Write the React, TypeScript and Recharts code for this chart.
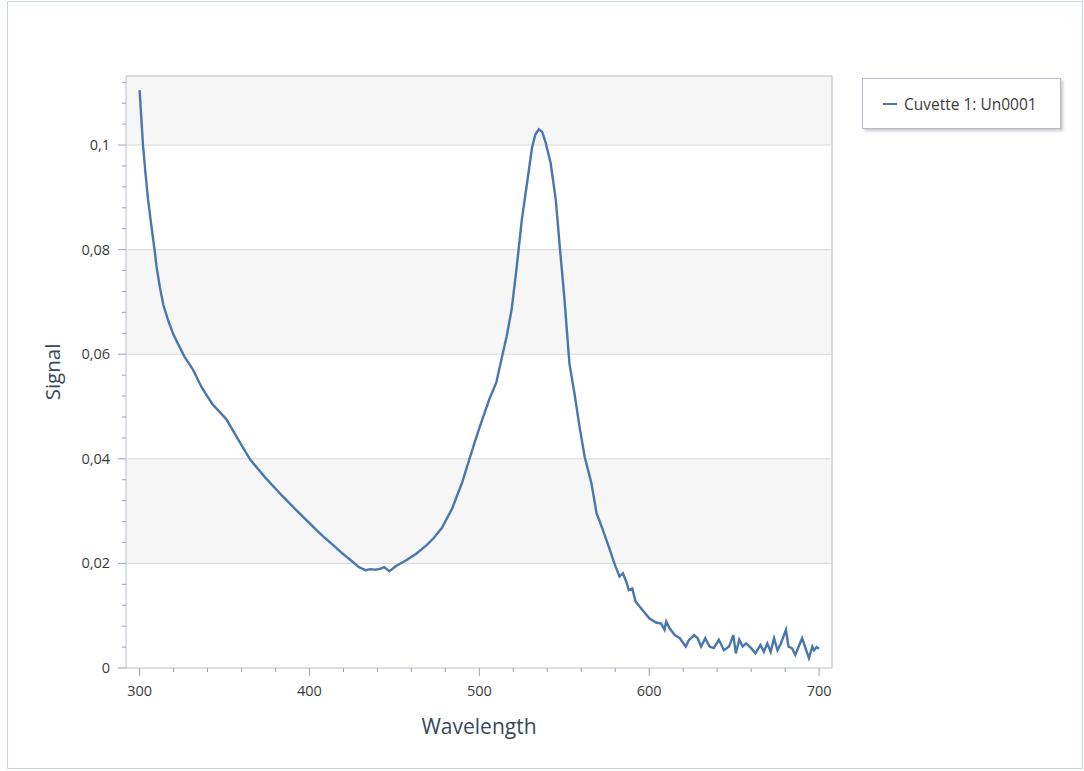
import React from 'react';
import { LineChart, Line, XAxis, YAxis, ReferenceArea, ReferenceLine, Legend } from 'recharts';

// spectrum
const wavelengths = [
  300, 302, 303.5, 305, 307, 309, 310, 312, 314, 317, 320, 323.5, 326.5, 331.5, 336.5, 340,
  343, 347, 351, 358, 365, 374, 384, 394,
  404, 409, 414, 419, 424, 429, 433, 436, 439, 442, 444, 447, 451, 457, 463, 469, 473, 478,
  484, 490, 494, 498, 502, 506, 510, 513, 516, 519, 522, 525, 528, 531, 533, 535, 537, 539,
  542, 545, 547.5, 550, 553, 556, 559, 562, 566, 569, 572.5, 576.5, 579.5, 582.5, 584.5, 586.5,
  588, 590, 592, 596, 600, 604, 607, 609, 610, 612, 615, 618, 621.5, 623.5, 626.5, 628.5,
  630.5, 633, 635.5, 638, 641, 644, 647, 649.5, 651, 653, 655, 657, 660, 662.5, 665.5, 667.5,
  669.5, 671.5, 673.5, 675.5, 677.5, 680.5, 682, 684, 686, 688, 690, 692, 694, 696, 697,
  698.5, 700,
];
const signal = [
  0.1105, 0.1, 0.0945, 0.0895, 0.0844, 0.0795, 0.0767, 0.0727, 0.0694, 0.0663, 0.0637, 0.0614,
  0.0595, 0.057, 0.0537, 0.0519, 0.0504, 0.049,
  0.0476, 0.0437, 0.0399, 0.0364, 0.0329, 0.0296, 0.0264, 0.0249, 0.0235, 0.022, 0.0207,
  0.0193, 0.0187, 0.0189, 0.0188, 0.019, 0.0193, 0.0185, 0.0195, 0.0206, 0.0219, 0.0235,
  0.0248, 0.0268, 0.0305, 0.0356, 0.0398, 0.0439, 0.0478, 0.0515, 0.0546, 0.059, 0.0633,
  0.0685, 0.0767, 0.0857, 0.0925, 0.0995, 0.102, 0.103, 0.1025, 0.1005, 0.0965, 0.0895, 0.08,
  0.071, 0.0583, 0.0525, 0.0461, 0.0404, 0.0353, 0.0296, 0.0266, 0.0229, 0.02, 0.0175, 0.0181,
  0.0165, 0.0149, 0.0152, 0.0127, 0.0111, 0.0095, 0.0087, 0.0085, 0.0073, 0.0089, 0.0076,
  0.0063, 0.0057, 0.0041, 0.0054, 0.0063, 0.0057, 0.0041, 0.0057, 0.0041, 0.0038, 0.0054,
  0.0034, 0.0041, 0.0063, 0.0028, 0.0054, 0.0041, 0.0047, 0.0038, 0.0028, 0.0044, 0.0031,
  0.0047, 0.0031, 0.0057, 0.0034, 0.0047, 0.0073, 0.0041, 0.0038, 0.0025, 0.0041, 0.0057,
  0.0038, 0.0019, 0.0041, 0.0034, 0.004, 0.0037,
];

const xTicks = [
  300, 320, 340, 360, 380, 400, 420, 440, 460, 480, 500, 520, 540, 560, 580, 600, 620, 640,
  660, 680, 700,
];
const xMajorTicks = [300, 400, 500, 600, 700];
const yTicks = [
  0, 0.004, 0.008, 0.012, 0.016, 0.02, 0.024, 0.028, 0.032, 0.036, 0.04, 0.044, 0.048, 0.052,
  0.056, 0.06, 0.064, 0.068, 0.072, 0.076, 0.08, 0.084, 0.088, 0.092, 0.096, 0.1, 0.104, 0.108,
  0.112,
];
const yMajorTicks = [0, 0.02, 0.04, 0.06, 0.08, 0.1];
const shadedBands = [
  [0.02, 0.04],
  [0.06, 0.08],
  [0.1, 0.1132],
];
const seriesName = 'Cuvette 1: Un0001';

const xDomain = [292, 707.6];
const yDomain = [0, 0.1132];

const font = '"Open Sans", "Noto Sans", sans-serif';
const lineColor = '#4a76af';
const tickColor = '#9aa3ad';
const textColor = '#3a3a3a';

const data = wavelengths.map((w, i) => ({ wavelength: w, signal: signal[i] }));

const XTick = (props: any) => {
  const { x, y, payload } = props;
  const major = xMajorTicks.includes(payload.value);
  return (
    <g>
      <line x1={x} x2={x} y1={y} y2={y + (major ? 8 : 4)} stroke={tickColor} />
      {major && (
        <text x={x} y={y + 28} textAnchor="middle" fontSize={14.5} fill={textColor} fontFamily={font}>
          {payload.value}
        </text>
      )}
    </g>
  );
};

const YTick = (props: any) => {
  const { x, y, payload } = props;
  const major = yMajorTicks.includes(payload.value);
  return (
    <g>
      <line x1={x - (major ? 8 : 4)} x2={x} y1={y} y2={y} stroke={tickColor} />
      {major && (
        <text x={x - 16} y={y + 5} textAnchor="end" fontSize={14.5} fill={textColor} fontFamily={font}>
          {String(payload.value).replace('.', ',')}
        </text>
      )}
    </g>
  );
};

const LegendBox = (props: any) => {
  const item = props.payload && props.payload[0];
  return (
    <div
      style={{
        boxSizing: 'border-box',
        width: 199,
        height: 51,
        border: '1px solid #b3bcc6',
        background: '#fff',
        boxShadow: '2px 2px 3px rgba(0,0,0,0.22)',
        display: 'flex',
        alignItems: 'center',
        paddingLeft: 20,
        fontFamily: font,
        fontSize: 15.5,
        color: textColor,
        whiteSpace: 'nowrap',
      }}
    >
      <span style={{ display: 'inline-block', width: 14, height: 2, background: item ? item.color : lineColor, marginRight: 7 }} />
      {item ? item.value : seriesName}
    </div>
  );
};

const App: React.FC = () => {
  return (
    <div style={{ position: 'absolute', left: 0, top: 0, width: 1084, height: 771, background: '#fff' }}>
      <div
        style={{
          position: 'absolute',
          left: 7,
          top: 1,
          width: 1074,
          height: 766,
          border: '1px solid #c8d5e2',
        }}
      />
      <LineChart
        width={1084}
        height={771}
        data={data}
        margin={{ top: 76, right: 252, bottom: 33, left: 30 }}
        style={{ position: 'absolute', left: 0, top: 0 }}
      >
        {shadedBands.map(([a, b]) => (
          <ReferenceArea key={a} y1={a} y2={b} fill="#f6f6f6" fillOpacity={1} stroke="none" ifOverflow="hidden" />
        ))}
        {yMajorTicks.slice(1).map((v) => (
          <ReferenceLine key={v} y={v} stroke="#d6d9dc" strokeWidth={1} />
        ))}
        <XAxis
          dataKey="wavelength"
          type="number"
          domain={xDomain}
          ticks={xTicks}
          allowDataOverflow
          axisLine={false}
          tickLine={false}
          tickSize={0}
          tickMargin={0}
          tick={<XTick />}
          height={70}
          interval={0}
          label={{ value: 'Wavelength', position: 'center', dy: 24, fontSize: 21, fill: '#3a4756', fontFamily: font }}
        />
        <YAxis
          type="number"
          domain={yDomain}
          ticks={yTicks}
          allowDataOverflow
          axisLine={false}
          tickLine={false}
          tickSize={0}
          tickMargin={0}
          tick={<YTick />}
          width={96}
          interval={0}
          label={{ value: 'Signal', angle: -90, position: 'center', dx: -25, fontSize: 20.5, fill: '#3a4756', fontFamily: font }}
        />
        <Legend
          layout="vertical"
          align="center"
          verticalAlign="middle"
          wrapperStyle={{ left: 862, top: 78, width: 199 }}
          content={<LegendBox />}
        />
        <Line
          type="linear"
          dataKey="signal"
          name={seriesName}
          stroke={lineColor}
          strokeWidth={2.4}
          dot={false}
          activeDot={false}
          isAnimationActive={false}
        />
        <ReferenceArea
          x1={xDomain[0]}
          x2={xDomain[1]}
          y1={yDomain[0]}
          y2={yDomain[1]}
          fill="none"
          stroke="#b4bec9"
          strokeWidth={1}
          ifOverflow="extendDomain"
        />
      </LineChart>
    </div>
  );
};

export default App;
